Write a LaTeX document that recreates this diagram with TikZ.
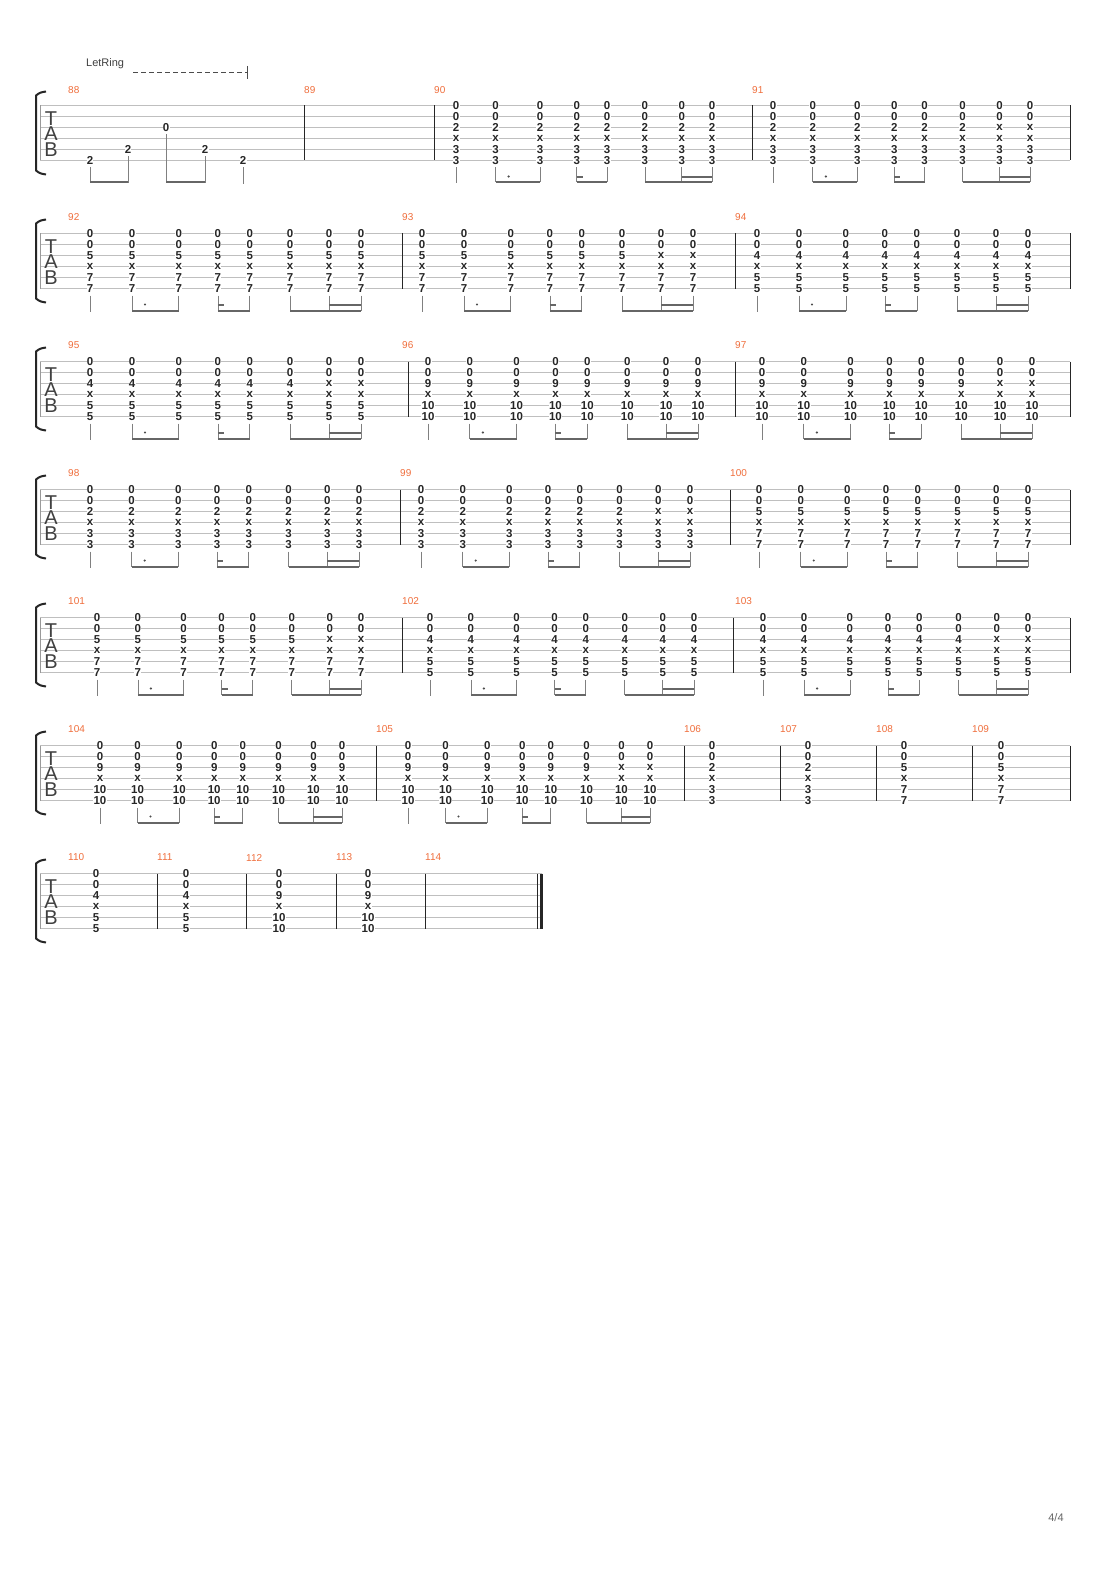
\documentclass[tikz,border=0pt]{standalone}
\usepackage{fontspec}
\setmainfont{Liberation Sans}
\begin{document}
\begin{tikzpicture}[x=1pt,y=-1pt,
  dig/.style={fill=white,inner sep=0.3pt,font=\fontsize{11.5}{11.5}\selectfont\bfseries,text=black!85},
  num/.style={anchor=west,inner sep=0pt,font=\fontsize{10}{10}\selectfont,text={rgb,255:red,240;green,110;blue,60}},
  sline/.style={draw=black!25,line width=0.7pt},
  barl/.style={draw=black!85,line width=0.9pt},
  stem/.style={draw=black!50,line width=0.8pt},
  beam/.style={draw=black!60,line width=2pt},
  tabl/.style={inner sep=0pt,font=\fontsize{20}{20}\selectfont,text=black!75}]
\useasboundingbox (0,0) rectangle (1110,1570);
\fill[white] (0,0) rectangle (1110,1570);
\newcommand\chordat[4]{% x, ytop, s3, s56
  \node[dig] at (#1,#2) {0}; \node[dig] at (#1,#2+11) {0};
  \node[dig] at (#1,#2+22) {#3}; \node[dig] at (#1,#2+33) {x};
  \node[dig] at (#1,#2+44) {#4}; \node[dig] at (#1,#2+55) {#4};}
\newcommand\meas[6]{% first,last,ytop,s3,s56,B?
  \foreach \g [count=\i] in {0,.155,.328,.472,.590,.738,.882,1}{
    \pgfmathsetmacro\cx{#1+(#2-#1)*\g}
    \def\third{#4}\ifnum\i>6 \ifnum#6>0 \def\third{x}\fi\fi
    \chordat{\cx}{#3}{\third}{#5}}
  \pgfmathsetmacro\pA{#1}\pgfmathsetmacro\pB{#1+(#2-#1)*.155}
  \pgfmathsetmacro\pC{#1+(#2-#1)*.328}\pgfmathsetmacro\pD{#1+(#2-#1)*.472}
  \pgfmathsetmacro\pE{#1+(#2-#1)*.590}\pgfmathsetmacro\pF{#1+(#2-#1)*.738}
  \pgfmathsetmacro\pG{#1+(#2-#1)*.882}\pgfmathsetmacro\pH{#2}
  \pgfmathsetmacro\yb{#3+55}
  \draw[stem] (\pA,\yb+7)--(\pA,\yb+23);
  \foreach \x in {\pB,\pC,\pD,\pE,\pF,\pG,\pH} \draw[stem] (\x,\yb+7)--(\x,\yb+22);
  \draw[beam] (\pB,\yb+22)--(\pC,\yb+22);
  \fill[black!70] (\pB+13,\yb+16) circle (1.2);
  \draw[beam] (\pD,\yb+22)--(\pE,\yb+22);
  \draw[beam] (\pD,\yb+16.5)--(\pD+6,\yb+16.5);
  \draw[beam] (\pF,\yb+22)--(\pH,\yb+22);
  \draw[beam] (\pG,\yb+16.5)--(\pH,\yb+16.5);}
\newcommand\staff[2]{% ytop, right end
  \foreach \k in {0,...,5} \draw[sline] (40,#1+11*\k)--(#2,#1+11*\k);
  \draw[draw=black!40,line width=0.8pt] (40,#1)--(40,#1+55);
  \draw[line width=2pt,draw=black!85] (46,#1-14) .. controls (40,#1-13) .. (36,#1-10) -- (36,#1+65) .. controls (40,#1+68) .. (46,#1+69);
  \node[tabl] at (51,#1+13) {T};
  \node[tabl] at (51,#1+28.5) {A};
  \node[tabl] at (51,#1+44) {B};}
\newcommand\bars[2]{\foreach \b in {#2} \draw[barl] (\b,#1)--(\b,#1+55);}
% ---------- system 1
\def\Y{105.5}
\staff{\Y}{1070}
\bars{\Y}{304,434,752,1070}
\node[anchor=west,inner sep=0pt,font=\fontsize{11}{11}\selectfont,text=black!75] (lr) at (86,64) {LetRing};
\draw[black!70,dash pattern=on 5pt off 3pt,line width=0.8pt] (133,72.5)--(247,72.5);
\draw[black!70,line width=0.8pt] (247,66)--(247,79);
\node[num] at (68,90) {88}; \node[num] at (304,90) {89};
\node[num] at (434,90) {90}; \node[num] at (752,90) {91};
\node[dig] (a1) at (90,\Y+55) {2}; \node[dig] (a2) at (128,\Y+44) {2};
\node[dig] (a3) at (166,\Y+22) {0}; \node[dig] (a4) at (205,\Y+44) {2};
\node[dig] (a5) at (243,\Y+55) {2};
\draw[stem] (90,\Y+62)--(90,\Y+78); \draw[stem] (128,\Y+51)--(128,\Y+78);
\draw[stem] (166,\Y+29)--(166,\Y+78); \draw[stem] (205,\Y+51)--(205,\Y+78);
\draw[stem] (243,\Y+62)--(243,\Y+79);
\draw[beam] (90,\Y+77)--(128,\Y+77); \draw[beam] (166,\Y+77)--(205,\Y+77);
\meas{456}{712}{\Y}{2}{3}{0}
\meas{773}{1030}{\Y}{2}{3}{1}
% ---------- system 2
\def\Y{233.5}
\staff{\Y}{1070}\bars{\Y}{402,735,1070}
\node[num] at (68,\Y-16) {92}; \node[num] at (402,\Y-16) {93}; \node[num] at (735,\Y-16) {94};
\meas{90}{361}{\Y}{5}{7}{0}
\meas{422}{693}{\Y}{5}{7}{1}
\meas{757}{1028}{\Y}{4}{5}{0}
% ---------- system 3
\def\Y{361.5}
\staff{\Y}{1070}\bars{\Y}{408,735,1070}
\node[num] at (68,\Y-16) {95}; \node[num] at (402,\Y-16) {96}; \node[num] at (735,\Y-16) {97};
\meas{90}{361}{\Y}{4}{5}{1}
\meas{428}{698}{\Y}{9}{10}{0}
\meas{762}{1032}{\Y}{9}{10}{1}
% ---------- system 4
\def\Y{489.5}
\staff{\Y}{1070}\bars{\Y}{400,730,1070}
\node[num] at (68,\Y-16) {98}; \node[num] at (400,\Y-16) {99}; \node[num] at (730,\Y-16) {100};
\meas{90}{359}{\Y}{2}{3}{0}
\meas{421}{690}{\Y}{2}{3}{1}
\meas{759}{1028}{\Y}{5}{7}{0}
% ---------- system 5
\def\Y{617.5}
\staff{\Y}{1070}\bars{\Y}{402,733,1070}
\node[num] at (68,\Y-16) {101}; \node[num] at (402,\Y-16) {102}; \node[num] at (735,\Y-16) {103};
\meas{97}{361}{\Y}{5}{7}{1}
\meas{430}{694}{\Y}{4}{5}{0}
\meas{763}{1028}{\Y}{4}{5}{1}
% ---------- system 6
\def\Y{745.5}
\staff{\Y}{1070}\bars{\Y}{376,684,780,876,972,1070}
\node[num] at (68,\Y-16) {104}; \node[num] at (376,\Y-16) {105};
\node[num] at (684,\Y-16) {106}; \node[num] at (780,\Y-16) {107};
\node[num] at (876,\Y-16) {108}; \node[num] at (972,\Y-16) {109};
\meas{100}{342}{\Y}{9}{10}{0}
\meas{408}{650}{\Y}{9}{10}{1}
\chordat{712}{\Y}{2}{3}\chordat{808}{\Y}{2}{3}
\chordat{904}{\Y}{5}{7}\chordat{1001}{\Y}{5}{7}
% ---------- system 7
\def\Y{873.5}
\staff{\Y}{542}\bars{\Y}{157,246,336,425,537}
\draw[draw=black!85,line width=3pt] (541,\Y)--(541,\Y+55);
\node[num] at (68,\Y-16) {110}; \node[num] at (157,\Y-16) {111};
\node[num] at (246,\Y-16) {112}; \node[num] at (336,\Y-16) {113};
\node[num] at (425,\Y-16) {114};
\chordat{96}{\Y}{4}{5}\chordat{186}{\Y}{4}{5}
\chordat{279}{\Y}{9}{10}\chordat{368}{\Y}{9}{10}
\node[font=\fontsize{11}{11}\selectfont,text=black!60] (pg) at (1056,1518) {4/4};
\end{tikzpicture}
\end{document}
